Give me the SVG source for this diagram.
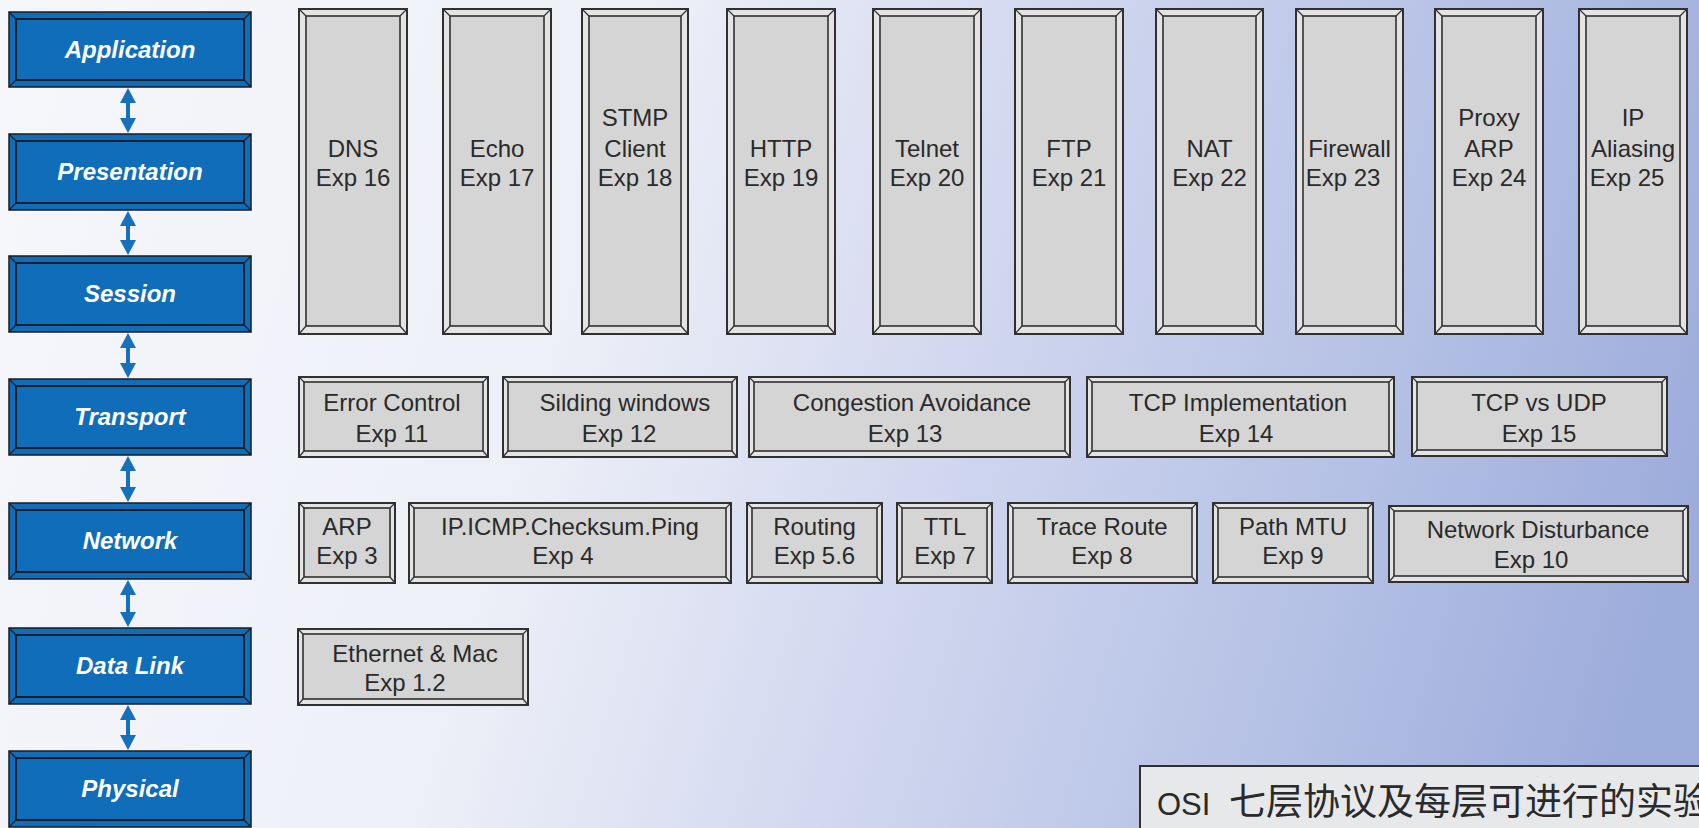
<svg xmlns="http://www.w3.org/2000/svg" width="1699" height="828" viewBox="0 0 1699 828">
<defs>
<linearGradient id="bg" x1="0" y1="0" x2="1699" y2="500" gradientUnits="userSpaceOnUse">
<stop offset="0" stop-color="#f6f7fb"/>
<stop offset="0.35" stop-color="#eef0f8"/>
<stop offset="0.6" stop-color="#ced5ee"/>
<stop offset="0.82" stop-color="#b3bfe4"/>
<stop offset="1" stop-color="#9cacdb"/>
</linearGradient>
<marker id="ah" viewBox="0 0 16 16" refX="6" refY="8" markerWidth="16" markerHeight="16" markerUnits="userSpaceOnUse" orient="auto-start-reverse">
<path d="M0,0 L15,8 L0,16 z" fill="#1670bb"/>
</marker>
<style>
.lo{fill:#0f6db9;stroke:#1c1c1c;stroke-width:1.5}
.li{fill:#0f6db9;stroke:#15202c;stroke-width:2}
.lb{stroke:#15202c;stroke-width:1.2;fill:none}
.lt{font-family:"Liberation Sans",Arial,sans-serif;font-weight:bold;font-style:italic;font-size:24px;fill:#ffffff;text-anchor:middle}
.go{fill:#e4e4e4;stroke:#303030;stroke-width:2}
.gi{fill:#d5d5d5;stroke:#303030;stroke-width:1.6}
.gb{stroke:#303030;stroke-width:1.2;fill:none}
.gt{font-family:"Liberation Sans",Arial,sans-serif;font-size:24px;fill:#2a2a2a;text-anchor:middle}
.cn{stroke:#1670bb;stroke-width:4;marker-start:url(#ah);marker-end:url(#ah)}
.cap{font-family:"Liberation Sans",Arial,"Noto Sans CJK SC",sans-serif;font-size:31px;fill:#2a2a2a}
</style>
</defs>
<rect x="0" y="0" width="1699" height="828" fill="url(#bg)"/>

<!-- OSI layers -->
<g id="layer-application"><rect class="lo" x="9" y="12" width="242" height="75"/><rect class="li" x="16" y="19" width="228" height="61"/><path class="lb" d="M9,12 l7,7 M251,12 l-7,7 M9,87 l7,-7 M251,87 l-7,-7"/><text class="lt" x="130" y="58">Application</text></g>
<g id="layer-presentation"><rect class="lo" x="9" y="134" width="242" height="76"/><rect class="li" x="16" y="141" width="228" height="62"/><path class="lb" d="M9,134 l7,7 M251,134 l-7,7 M9,210 l7,-7 M251,210 l-7,-7"/><text class="lt" x="130" y="180">Presentation</text></g>
<g id="layer-session"><rect class="lo" x="9" y="256" width="242" height="76"/><rect class="li" x="16" y="263" width="228" height="62"/><path class="lb" d="M9,256 l7,7 M251,256 l-7,7 M9,332 l7,-7 M251,332 l-7,-7"/><text class="lt" x="130" y="302">Session</text></g>
<g id="layer-transport"><rect class="lo" x="9" y="379" width="242" height="76"/><rect class="li" x="16" y="386" width="228" height="62"/><path class="lb" d="M9,379 l7,7 M251,379 l-7,7 M9,455 l7,-7 M251,455 l-7,-7"/><text class="lt" x="130" y="425">Transport</text></g>
<g id="layer-network"><rect class="lo" x="9" y="503" width="242" height="76"/><rect class="li" x="16" y="510" width="228" height="62"/><path class="lb" d="M9,503 l7,7 M251,503 l-7,7 M9,579 l7,-7 M251,579 l-7,-7"/><text class="lt" x="130" y="549">Network</text></g>
<g id="layer-datalink"><rect class="lo" x="9" y="628" width="242" height="76"/><rect class="li" x="16" y="635" width="228" height="62"/><path class="lb" d="M9,628 l7,7 M251,628 l-7,7 M9,704 l7,-7 M251,704 l-7,-7"/><text class="lt" x="130" y="674">Data Link</text></g>
<g id="layer-physical"><rect class="lo" x="9" y="751" width="242" height="76"/><rect class="li" x="16" y="758" width="228" height="62"/><path class="lb" d="M9,751 l7,7 M251,751 l-7,7 M9,827 l7,-7 M251,827 l-7,-7"/><text class="lt" x="130" y="797">Physical</text></g>

<g id="connectors">
<line class="cn" x1="128" y1="97" x2="128" y2="124"/>
<line class="cn" x1="128" y1="220" x2="128" y2="246"/>
<line class="cn" x1="128" y1="342" x2="128" y2="369"/>
<line class="cn" x1="128" y1="465" x2="128" y2="493"/>
<line class="cn" x1="128" y1="589" x2="128" y2="618"/>
<line class="cn" x1="128" y1="714" x2="128" y2="741"/>
</g>

<!-- Application experiments -->
<g id="exp16"><rect class="go" x="299" y="9" width="108" height="325"/><rect class="gi" x="306" y="16" width="94" height="310"/><path class="gb" d="M299,9 l7,7 M407,9 l-7,7 M299,334 l7,-8 M407,334 l-7,-8"/><text class="gt" x="353" y="157">DNS</text><text class="gt" x="353" y="186">Exp 16</text></g>
<g id="exp17"><rect class="go" x="443" y="9" width="108" height="325"/><rect class="gi" x="450" y="16" width="94" height="310"/><path class="gb" d="M443,9 l7,7 M551,9 l-7,7 M443,334 l7,-8 M551,334 l-7,-8"/><text class="gt" x="497" y="157">Echo</text><text class="gt" x="497" y="186">Exp 17</text></g>
<g id="exp18"><rect class="go" x="582" y="9" width="106" height="325"/><rect class="gi" x="589" y="16" width="92" height="310"/><path class="gb" d="M582,9 l7,7 M688,9 l-7,7 M582,334 l7,-8 M688,334 l-7,-8"/><text class="gt" x="635" y="126">STMP</text><text class="gt" x="635" y="157">Client</text><text class="gt" x="635" y="186">Exp 18</text></g>
<g id="exp19"><rect class="go" x="727" y="9" width="108" height="325"/><rect class="gi" x="734" y="16" width="94" height="310"/><path class="gb" d="M727,9 l7,7 M835,9 l-7,7 M727,334 l7,-8 M835,334 l-7,-8"/><text class="gt" x="781" y="157">HTTP</text><text class="gt" x="781" y="186">Exp 19</text></g>
<g id="exp20"><rect class="go" x="873" y="9" width="108" height="325"/><rect class="gi" x="880" y="16" width="94" height="310"/><path class="gb" d="M873,9 l7,7 M981,9 l-7,7 M873,334 l7,-8 M981,334 l-7,-8"/><text class="gt" x="927" y="157">Telnet</text><text class="gt" x="927" y="186">Exp 20</text></g>
<g id="exp21"><rect class="go" x="1015" y="9" width="108" height="325"/><rect class="gi" x="1022" y="16" width="94" height="310"/><path class="gb" d="M1015,9 l7,7 M1123,9 l-7,7 M1015,334 l7,-8 M1123,334 l-7,-8"/><text class="gt" x="1069" y="157">FTP</text><text class="gt" x="1069" y="186">Exp 21</text></g>
<g id="exp22"><rect class="go" x="1156" y="9" width="107" height="325"/><rect class="gi" x="1163" y="16" width="93" height="310"/><path class="gb" d="M1156,9 l7,7 M1263,9 l-7,7 M1156,334 l7,-8 M1263,334 l-7,-8"/><text class="gt" x="1209.5" y="157">NAT</text><text class="gt" x="1209.5" y="186">Exp 22</text></g>
<g id="exp23"><rect class="go" x="1296" y="9" width="107" height="325"/><rect class="gi" x="1303" y="16" width="93" height="310"/><path class="gb" d="M1296,9 l7,7 M1403,9 l-7,7 M1296,334 l7,-8 M1403,334 l-7,-8"/><text class="gt" x="1349.5" y="157">Firewall</text><text class="gt" x="1343" y="186">Exp 23</text></g>
<g id="exp24"><rect class="go" x="1435" y="9" width="108" height="325"/><rect class="gi" x="1442" y="16" width="94" height="310"/><path class="gb" d="M1435,9 l7,7 M1543,9 l-7,7 M1435,334 l7,-8 M1543,334 l-7,-8"/><text class="gt" x="1489" y="126">Proxy</text><text class="gt" x="1489" y="157">ARP</text><text class="gt" x="1489" y="186">Exp 24</text></g>
<g id="exp25"><rect class="go" x="1579" y="9" width="108" height="325"/><rect class="gi" x="1586" y="16" width="94" height="310"/><path class="gb" d="M1579,9 l7,7 M1687,9 l-7,7 M1579,334 l7,-8 M1687,334 l-7,-8"/><text class="gt" x="1633" y="126">IP</text><text class="gt" x="1633" y="157">Aliasing</text><text class="gt" x="1627" y="186">Exp 25</text></g>

<!-- Transport experiments -->
<g id="exp11"><rect class="go" x="299" y="377" width="189" height="80"/><rect class="gi" x="304" y="382" width="179" height="69"/><path class="gb" d="M299,377 l5,5 M488,377 l-5,5 M299,457 l5,-6 M488,457 l-5,-6"/><text class="gt" x="392" y="411">Error Control</text><text class="gt" x="392" y="442">Exp 11</text></g>
<g id="exp12"><rect class="go" x="503" y="377" width="234" height="80"/><rect class="gi" x="508" y="382" width="224" height="69"/><path class="gb" d="M503,377 l5,5 M737,377 l-5,5 M503,457 l5,-6 M737,457 l-5,-6"/><text class="gt" x="625" y="411">Silding windows</text><text class="gt" x="619" y="442">Exp 12</text></g>
<g id="exp13"><rect class="go" x="749" y="377" width="321" height="80"/><rect class="gi" x="754" y="382" width="311" height="69"/><path class="gb" d="M749,377 l5,5 M1070,377 l-5,5 M749,457 l5,-6 M1070,457 l-5,-6"/><text class="gt" x="912" y="411">Congestion Avoidance</text><text class="gt" x="905" y="442">Exp 13</text></g>
<g id="exp14"><rect class="go" x="1087" y="377" width="307" height="80"/><rect class="gi" x="1092" y="382" width="297" height="69"/><path class="gb" d="M1087,377 l5,5 M1394,377 l-5,5 M1087,457 l5,-6 M1394,457 l-5,-6"/><text class="gt" x="1238" y="411">TCP Implementation</text><text class="gt" x="1236" y="442">Exp 14</text></g>
<g id="exp15"><rect class="go" x="1412" y="377" width="255" height="79"/><rect class="gi" x="1417" y="382" width="245" height="68"/><path class="gb" d="M1412,377 l5,5 M1667,377 l-5,5 M1412,456 l5,-6 M1667,456 l-5,-6"/><text class="gt" x="1539" y="411">TCP vs UDP</text><text class="gt" x="1539" y="442">Exp 15</text></g>

<!-- Network experiments -->
<g id="exp3"><rect class="go" x="299" y="503" width="96" height="80"/><rect class="gi" x="304" y="508" width="86" height="69"/><path class="gb" d="M299,503 l5,5 M395,503 l-5,5 M299,583 l5,-6 M395,583 l-5,-6"/><text class="gt" x="347" y="535">ARP</text><text class="gt" x="347" y="564">Exp 3</text></g>
<g id="exp4"><rect class="go" x="409" y="503" width="322" height="80"/><rect class="gi" x="414" y="508" width="312" height="69"/><path class="gb" d="M409,503 l5,5 M731,503 l-5,5 M409,583 l5,-6 M731,583 l-5,-6"/><text class="gt" x="570" y="535">IP.ICMP.Checksum.Ping</text><text class="gt" x="563" y="564">Exp 4</text></g>
<g id="exp5"><rect class="go" x="747" y="503" width="135" height="80"/><rect class="gi" x="752" y="508" width="125" height="69"/><path class="gb" d="M747,503 l5,5 M882,503 l-5,5 M747,583 l5,-6 M882,583 l-5,-6"/><text class="gt" x="814.5" y="535">Routing</text><text class="gt" x="814.5" y="564">Exp 5.6</text></g>
<g id="exp7"><rect class="go" x="897" y="503" width="95" height="80"/><rect class="gi" x="902" y="508" width="85" height="69"/><path class="gb" d="M897,503 l5,5 M992,503 l-5,5 M897,583 l5,-6 M992,583 l-5,-6"/><text class="gt" x="945" y="535">TTL</text><text class="gt" x="945" y="564">Exp 7</text></g>
<g id="exp8"><rect class="go" x="1008" y="503" width="189" height="80"/><rect class="gi" x="1013" y="508" width="179" height="69"/><path class="gb" d="M1008,503 l5,5 M1197,503 l-5,5 M1008,583 l5,-6 M1197,583 l-5,-6"/><text class="gt" x="1102" y="535">Trace Route</text><text class="gt" x="1102" y="564">Exp 8</text></g>
<g id="exp9"><rect class="go" x="1213" y="503" width="160" height="80"/><rect class="gi" x="1218" y="508" width="150" height="69"/><path class="gb" d="M1213,503 l5,5 M1373,503 l-5,5 M1213,583 l5,-6 M1373,583 l-5,-6"/><text class="gt" x="1293" y="535">Path MTU</text><text class="gt" x="1293" y="564">Exp 9</text></g>
<g id="exp10"><rect class="go" x="1389" y="506" width="299" height="76"/><rect class="gi" x="1394" y="511" width="289" height="65"/><path class="gb" d="M1389,506 l5,5 M1688,506 l-5,5 M1389,582 l5,-6 M1688,582 l-5,-6"/><text class="gt" x="1538" y="538">Network Disturbance</text><text class="gt" x="1531" y="568">Exp 10</text></g>

<!-- Data link experiment -->
<g id="exp1"><rect class="go" x="298" y="629" width="230" height="76"/><rect class="gi" x="303" y="634" width="220" height="65"/><path class="gb" d="M298,629 l5,5 M528,629 l-5,5 M298,705 l5,-6 M528,705 l-5,-6"/><text class="gt" x="415" y="662">Ethernet &amp; Mac</text><text class="gt" x="405" y="691">Exp 1.2</text></g>

<!-- Caption -->
<g id="caption"><rect x="1140" y="766" width="600" height="80" fill="#e7e8ea" stroke="#303030" stroke-width="2"/><text class="cap" y="815"><tspan x="1157">OSI</tspan><tspan x="1229" style="font-family:'Noto Sans CJK SC',sans-serif;font-size:37px">七层协议及每层可进行的实验</tspan></text></g>
</svg>
